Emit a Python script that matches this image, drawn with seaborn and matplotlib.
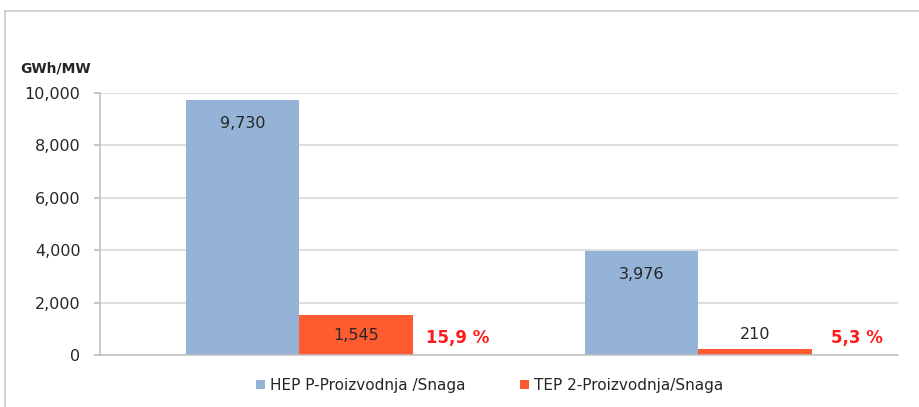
import matplotlib
matplotlib.use("Agg")
import matplotlib.pyplot as plt
import seaborn as sns
import pandas as pd
from matplotlib.lines import Line2D
from matplotlib.ticker import FuncFormatter

groups = ["HEP P", "TEP 2"]
series = ["HEP P-Proizvodnja /Snaga", "TEP 2-Proizvodnja/Snaga"]
hep_values = [9730, 3976]
tep_values = [1545, 210]
value_labels_hep = ["9,730", "3,976"]
value_labels_tep = ["1,545", "210"]
pct_labels = ["15,9 %", "5,3 %"]
colors = ["#95B3D7", "#FF5B30"]

df = pd.DataFrame({
    "group": groups * 2,
    "series": [series[0]] * 2 + [series[1]] * 2,
    "value": hep_values + tep_values,
})

sns.set_theme(style="white")
plt.rcParams['font.family'] = ['DejaVu Sans']

fig = plt.figure(figsize=(9.2, 4.07), dpi=100)
ax = fig.add_axes([100/920, 1-355/407, 798/920, 262/407])

sns.barplot(data=df, x="group", y="value", hue="series", palette=colors,
            width=0.57, ax=ax, saturation=1, legend=True, edgecolor="none")

ax.set_ylim(0, 10000)
ax.set_yticks(range(0, 10001, 2000))
ax.yaxis.set_major_formatter(FuncFormatter(lambda v, p: f"{int(v):,}"))
ax.grid(axis="y", color="#D4D4D4", linewidth=1.1)
ax.set_axisbelow(True)
ax.set_xlabel("")
ax.set_ylabel("")
ax.set_xticks([])
ax.set_xlim(-0.5, 1.5)
for s in ["top", "right"]:
    ax.spines[s].set_visible(False)
for s in ["left", "bottom"]:
    ax.spines[s].set_color("#BFBFBF")
    ax.spines[s].set_linewidth(1.1)
ax.tick_params(axis="y", left=True, length=4, color="#BFBFBF", labelsize=11.5,
               labelcolor="#262626", pad=10)

# value labels
hep_bars = ax.containers[0]
tep_bars = ax.containers[1]
for bar, lab in zip(hep_bars, value_labels_hep):
    ax.annotate(lab, (bar.get_x() + bar.get_width()/2, bar.get_height()),
                xytext=(0, -17), textcoords="offset points", ha="center", va="center",
                fontsize=11.5, color="#262626")
for bar, lab, val in zip(tep_bars, value_labels_tep, tep_values):
    off = -15 if val > 1000 else 11
    ax.annotate(lab, (bar.get_x() + bar.get_width()/2, bar.get_height()),
                xytext=(0, off), textcoords="offset points", ha="center", va="center",
                fontsize=11.5, color="#262626")
for bar, lab in zip(tep_bars, pct_labels):
    ax.annotate(lab, (bar.get_x() + bar.get_width(), 0),
                xytext=(32, 12.5), textcoords="offset points", ha="center", va="center",
                fontsize=12, color="#FF1A1A", fontweight="bold")

ax.text(-0.1, 1.095, "GWh/MW", transform=ax.transAxes, fontsize=10,
        fontweight="bold", ha="left", va="center", color="#262626")

leg = ax.legend(loc="upper center", bbox_to_anchor=(0.488, -0.035), ncol=2, frameon=False,
                fontsize=11, handlelength=0.6, handleheight=0.6, handletextpad=0.3,
                columnspacing=3.6)
for t in leg.get_texts():
    t.set_color("#262626")

# outer chart border
fig.add_artist(Line2D([5/920, 1], [1-11/407, 1-11/407], color="#C8C8C8", lw=1.2))
fig.add_artist(Line2D([5/920, 5/920], [0, 1-11/407], color="#C8C8C8", lw=1.2))

fig.savefig("out.png", dpi=100)
